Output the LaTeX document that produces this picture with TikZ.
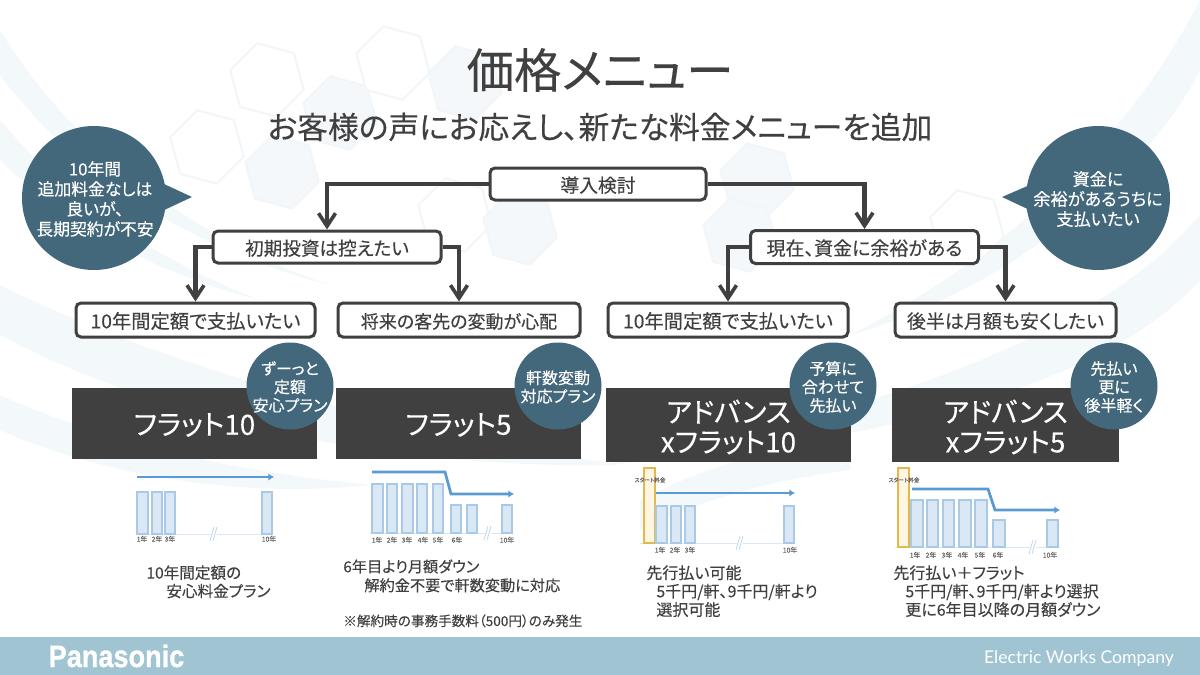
\documentclass[tikz,border=0pt]{standalone}
\usepackage{fontspec}
\setmainfont[RawFeature=+palt,FakeBold=0.2]{Noto Sans CJK JP}
\newfontfamily\logofont[BoldFeatures={FakeBold=1}]{Liberation Sans}
\newfontfamily\divfont{Lato}
\usetikzlibrary{arrows.meta}
\definecolor{ink}{HTML}{404040}
\definecolor{slate}{HTML}{44687B}
\definecolor{footerblue}{HTML}{A1C4D3}
\definecolor{barfill}{HTML}{DAE7F5}
\definecolor{barline}{HTML}{A9C9E6}
\definecolor{flowblue}{HTML}{5B9BD5}
\definecolor{paleband}{HTML}{F3F8FA}
\definecolor{palecell}{HTML}{F4F8FB}
\definecolor{celledge}{HTML}{F2F6F8}
\definecolor{goldline}{HTML}{E3B84F}
\definecolor{goldfill}{HTML}{FFF6E2}
\newcommand{\pxfont}[2]{\fontsize{#1pt}{#2pt}\selectfont}
% one pale hexagon of the backdrop
\newcommand{\hexcell}[3]{%
  \draw[line width=1pt,draw=celledge,fill=#3] (#1,#2) ++(15:38) -- ++(135:38) -- ++(195:38)
    -- ++(255:38) -- ++(315:38) -- ++(15:38) -- cycle;}
% bar of a tariff chart: left, right, top, bottom
\newcommand{\tariffbar}[4]{\draw[barstyle] (#1,#3) rectangle (#2,#4);}
% axis of a tariff chart with its break mark: left, right, y, break x
\newcommand{\tariffaxis}[4]{%
  \draw[line width=0.5pt,draw=barfill] (#1,#3) -- (#2,#3);
  \fill[white] (#4-3,#3-1) rectangle (#4+3,#3+1);
  \draw[line width=0.35pt,draw=barline!80!white] (#4-4,#3+7) -- (#4,#3-7) (#4-1,#3+7) -- (#4+3,#3-7);}
\tikzset{
  x=0.5pt,y=-0.5pt,
  decision/.style={draw=ink,line width=1.5pt,fill=white,rounded corners=2.5pt,text=ink,inner sep=0pt,anchor=center,text height=9pt,text depth=0.7pt},
  conn/.style={draw=ink,line width=2.2pt,-{Straight Barb[length=6.5pt,width=8.5pt,line width=1.8pt]}},
  planbox/.style={fill=ink,inner sep=0pt},
  plantext/.style={text=white,inner sep=0pt,align=center,font=\pxfont{13.9}{15}},
  badge/.style={fill=slate},
  badgetext/.style={text=white,inner sep=0pt,align=center,font=\pxfont{8}{9.2}},
  voice/.style={text=white,inner sep=0pt,align=center,font=\pxfont{8.4}{10}},
  bubble/.style={fill=slate},
  barstyle/.style={fill=barfill,draw=barline,line width=0.6pt},
  flow/.style={draw=flowblue,line width=1.4pt,-{Latex[length=2.8pt,width=3.6pt]}},
  year/.style={text=ink!80,inner sep=0pt,font=\pxfont{3.4}{3.8}},
  startlabel/.style={text=ink!80,inner sep=0pt,font=\pxfont{2.8}{3.2}},
  startbar/.style={fill=goldfill,draw=goldline,line width=0.8pt},
  note/.style={text=ink,inner sep=0pt,anchor=north west,align=left,font=\pxfont{8}{9.2}},
}
\begin{document}
\begin{tikzpicture}
\useasboundingbox (0,0) rectangle (1200,675);
\fill[white] (0,0) rectangle (1200,675);

% backdrop: sweeping bands
\fill[paleband] (0,30) .. controls (60,130) and (170,230) .. (330,285) .. controls (190,250) and (70,170) .. (0,75) -- cycle;
\fill[paleband] (0,120) .. controls (50,180) and (130,250) .. (260,300) .. controls (140,270) and (50,210) .. (0,160) -- cycle;
\fill[paleband] (0,285) .. controls (120,345) and (330,420) .. (620,465) .. controls (340,470) and (120,400) .. (0,335) -- cycle;
\fill[paleband] (0,395) .. controls (100,440) and (220,470) .. (370,485) .. controls (230,500) and (90,470) .. (0,430) -- cycle;
\fill[paleband] (1200,0) .. controls (1150,100) and (1040,240) .. (850,335) .. controls (1010,290) and (1150,170) .. (1200,70) -- cycle;
\fill[paleband] (1200,215) .. controls (1120,310) and (950,400) .. (600,465) .. controls (930,440) and (1120,370) .. (1200,280) -- cycle;
\fill[paleband] (640,500) .. controls (700,470) and (760,450) .. (850,435) -- (850,470) .. controls (770,480) and (700,500) .. (640,530) -- cycle;

% backdrop: hexagon cells
\hexcell{340}{113}{palecell}
\hexcell{282}{172}{palecell}
\hexcell{207}{147}{white}
\hexcell{267}{80}{white}
\hexcell{393}{63}{white}
\hexcell{465}{83}{palecell}
\hexcell{757}{180}{palecell}
\hexcell{740}{235}{palecell}
\hexcell{967}{227}{white}
\hexcell{455}{215}{white}
\hexcell{520}{228}{palecell}

% footer band
\fill[footerblue] (0,637) rectangle (1200,675);
\node[text=white,inner sep=0pt,font=\logofont\bfseries\pxfont{15.4}{16}] (brand) at (116.5,656) {\scalebox{0.88}[1]{Panasonic}};
\node[text=white,inner sep=0pt,font=\divfont\pxfont{8.8}{10}] (division) at (1079,659) {Electric Works Company};

% headings
\node[text=ink,inner sep=0pt,font=\pxfont{23.7}{28}] (title) at (600,70) {価格メニュー};
\node[text=ink,inner sep=0pt,font=\pxfont{15.4}{18}] (subtitle) at (600,127) {お客様の声にお応えし、新たな料金メニューを追加};

% customer voices
\fill[bubble] (94,198) circle[radius=72];
\fill[bubble] (164,184) -- (192,197) -- (160,212) -- cycle;
\node[voice] (voiceL) at (95,199) {10年間\\追加料金なしは\\良いが、\\長期契約が不安};
\fill[bubble] (1098,198) circle[radius=72];
\fill[bubble] (1032,184) -- (1002,197) -- (1034,212) -- cycle;
\node[voice,font=\pxfont{8.6}{10}] (voiceR) at (1098,199) {資金に\\余裕があるうちに\\支払いたい};

% decision tree
\node[decision,minimum width=108pt,minimum height=16pt,font=\pxfont{9.4}{11}] (root) at (598,184) {導入検討};
\node[decision,minimum width=114pt,minimum height=16pt,font=\pxfont{9.3}{11}] (low) at (327,247) {初期投資は控えたい};
\node[decision,minimum width=114pt,minimum height=16.5pt,font=\pxfont{9.5}{11}] (high) at (864.5,247) {現在、資金に余裕がある};
\node[decision,minimum width=119.5pt,minimum height=17pt,font=\pxfont{9.65}{12}] (fixedA) at (195.5,320) {10年間定額で支払いたい};
\node[decision,minimum width=121pt,minimum height=17pt,font=\pxfont{9}{11}] (change) at (459,320) {将来の客先の変動が心配};
\node[decision,minimum width=120pt,minimum height=17pt,font=\pxfont{9.65}{12}] (fixedB) at (728,320) {10年間定額で支払いたい};
\node[decision,minimum width=110.5pt,minimum height=17pt,font=\pxfont{9.5}{11}] (later) at (1005.5,320) {後半は月額も安くしたい};
\draw[conn] (root.west) -| (low.north);
\draw[conn] (root.east) -| (high.north);
\draw[conn] (low.west) -| (fixedA.north);
\draw[conn] (low.east) -| (change.north);
\draw[conn] (high.west) -| (fixedB.north);
\draw[conn] (high.east) -| (later.north);

% plan boxes with their badges
\node[planbox,minimum width=122.5pt,minimum height=35.5pt] (flat10) at (194.5,423.5) {};
\node[planbox,minimum width=122.5pt,minimum height=35.5pt] (flat5) at (458.5,423.5) {};
\node[planbox,minimum width=122.5pt,minimum height=37pt] (adv10) at (728.5,425) {};
\node[planbox,minimum width=113.5pt,minimum height=37pt] (adv5) at (1005.5,425) {};
\node[plantext] (flat10t) at (194.5,425) {フラット10};
\node[plantext] (flat5t) at (458.5,425) {フラット5};
\node[plantext] (adv10t) at (728.5,427) {アドバンス\\xフラット10};
\node[plantext] (adv5t) at (1005.5,427) {アドバンス\\xフラット5};
\fill[badge] (290,386) circle[radius=43.5];
\fill[badge] (558,386) circle[radius=43.5];
\fill[badge] (833,386) circle[radius=43.5];
\fill[badge] (1114,386) circle[radius=43.5];
\node[badgetext] (badgeA) at (290,387) {ずーっと\\定額\\安心プラン};
\node[badgetext] (badgeB) at (558,387) {軒数変動\\対応プラン};
\node[badgetext] (badgeC) at (833,387) {予算に\\合わせて\\先払い};
\node[badgetext] (badgeD) at (1114,387) {先払い\\更に\\後半軽く};

% chart: flat 10
\tariffaxis{137}{272}{534}{214}
\tariffbar{137}{148}{492}{534}
\tariffbar{152}{162}{492}{534}
\tariffbar{165}{175}{492}{534}
\tariffbar{262}{272}{492}{534}
\coordinate (a1s) at (137,477);
\coordinate (a1e) at (274,477);
\draw[flow] (a1s) -- (a1e);
\foreach \px/\lab [count=\n] in {142/1年,157/2年,170/3年,269/10年}
  \node[year] (ya\n) at (\px,539) {\lab};

% chart: flat 5
\tariffaxis{370}{514}{533}{488}
\foreach \l/\r in {372/383,387/397,402/413,417/427,433/443}
  \tariffbar{\l}{\r}{484}{533}
\foreach \l/\r in {451/461,467/477,502/512}
  \tariffbar{\l}{\r}{505}{533}
\coordinate (b1s) at (372,472);
\coordinate (b1e) at (514,494);
\draw[flow] (b1s) -- (445,472) -- (451,494) -- (b1e);
\foreach \px/\lab [count=\n] in {377/1年,392/2年,407/3年,423/4年,438/5年,457/6年,507/10年}
  \node[year] (yb\n) at (\px,540) {\lab};

% chart: advance flat 10
\tariffaxis{640}{795}{543}{740}
\draw[startbar] (644,468) rectangle (655,543);
\tariffbar{656}{667}{506}{543}
\tariffbar{671}{681}{506}{543}
\tariffbar{685}{695}{506}{543}
\tariffbar{784}{794}{506}{543}
\coordinate (c1s) at (656,493);
\coordinate (c1e) at (795,493);
\draw[flow] (c1s) -- (c1e);
\node[startlabel] (startC) at (650,480) {スタート料金};
\foreach \px/\lab [count=\n] in {660/1年,675/2年,690/3年,790/10年}
  \node[year] (yc\n) at (\px,550) {\lab};

% chart: advance flat 5
\tariffaxis{895}{1060}{547}{1033}
\draw[startbar] (898,468) rectangle (909,547);
\foreach \l/\r in {911/923,927/938,943/954,959/971,975/987}
  \tariffbar{\l}{\r}{500}{547}
\foreach \l/\r in {993/1005,1047/1058}
  \tariffbar{\l}{\r}{520}{547}
\coordinate (d1s) at (912,489);
\coordinate (d1e) at (1060,510);
\draw[flow] (d1s) -- (988,489) -- (995,510) -- (d1e);
\node[startlabel] (startD) at (904,480) {スタート料金};
\foreach \px/\lab [count=\n] in {915/1年,931/2年,947/3年,963/4年,980/5年,998/6年,1050/10年}
  \node[year] (yd\n) at (\px,555) {\lab};

% plan descriptions
\node[note,font=\pxfont{7.8}{9.2}] (noteA) at (146,565) {10年間定額の\\\hspace*{10pt}安心料金プラン};
\node[note,font=\pxfont{7.6}{9.4}] (noteB) at (343,559) {6年目より月額ダウン\\\hspace*{10.5pt}解約金不要で軒数変動に対応};
\node[note,font=\pxfont{6.8}{8}] (noteB2) at (343,614) {※解約時の事務手数料（500円）のみ発生};
\node[note] (noteC) at (646,565) {先行払い可能\\\hspace*{5pt}5千円/軒、9千円/軒より\\\hspace*{5pt}選択可能};
\node[note] (noteD) at (893,565) {先行払い＋フラット\\\hspace*{6pt}5千円/軒、9千円/軒より選択\\\hspace*{6pt}更に6年目以降の月額ダウン};
\end{tikzpicture}
\end{document}
